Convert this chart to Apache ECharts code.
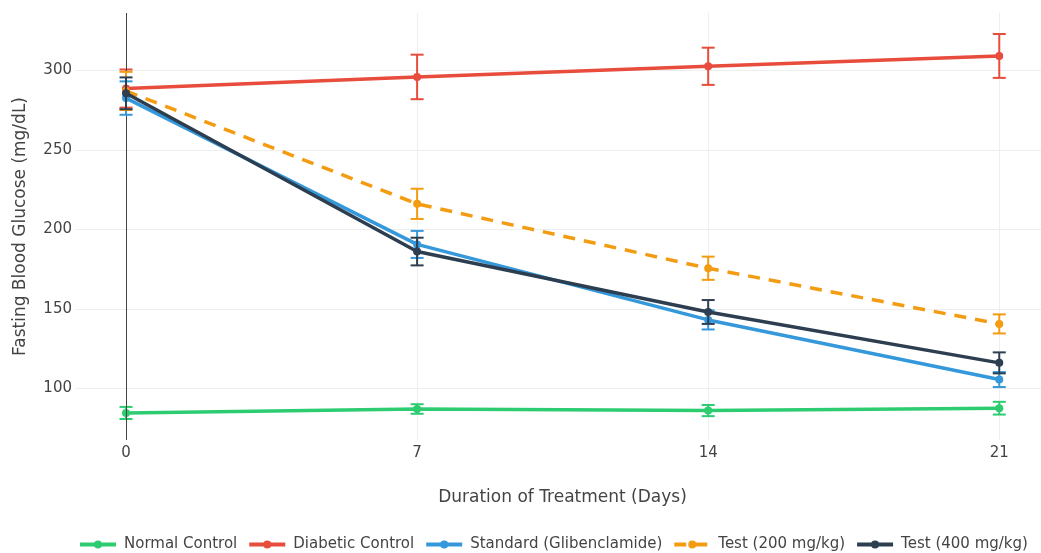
<!DOCTYPE html>
<html><head><meta charset="utf-8">
<script src="https://cdn.jsdelivr.net/npm/echarts@6/dist/echarts.min.js"></script>
<style>html,body{margin:0;padding:0;background:#fff}#c{width:1041px;height:553px}</style>
</head><body><div id="c"></div>
<script>
const days = [0, 7, 14, 21];
const xTicks = [0, 7, 14, 21];
const yTicks = [100, 150, 200, 250, 300];
const seriesNames = ['Normal Control', 'Diabetic Control', 'Standard (Glibenclamide)', 'Test (200 mg/kg)', 'Test (400 mg/kg)'];
const normalMean = [84.5, 87, 86, 87.5];
const normalErr = [3.8, 3, 3.5, 4];
const diabeticMean = [288.5, 295.8, 302.5, 309];
const diabeticErr = [12, 14, 11.7, 13.8];
const standardMean = [282.5, 190.5, 143, 105.5];
const standardErr = [10.5, 8.5, 6, 4.7];
const test200Mean = [287, 216, 175.5, 140.5];
const test200Err = [12, 9.5, 7.3, 6];
const test400Mean = [285.5, 186, 148, 116];
const test400Err = [10, 8.7, 7.5, 6.6];
const colors = ['#2ecc71', '#e74c3c', '#3498db', '#f39c12', '#2c3e50'];

const means = [normalMean, diabeticMean, standardMean, test200Mean, test400Mean];
const errs = [normalErr, diabeticErr, standardErr, test200Err, test400Err];
const FONT = '"DejaVu Sans", Verdana, sans-serif';

const series = [];
means.forEach((m, i) => {
  series.push({
    type: 'custom',
    name: 'err' + i,
    silent: true,
    z: 2 + i * 2,
    data: days.map((d, k) => [d, m[k] - errs[i][k], m[k] + errs[i][k]]),
    renderItem: function (params, api) {
      const lo = api.coord([api.value(0), api.value(1)]);
      const hi = api.coord([api.value(0), api.value(2)]);
      const w = 6.5;
      const st = { stroke: colors[i], lineWidth: 2 };
      return { type: 'group', children: [
        { type: 'line', shape: { x1: lo[0], y1: lo[1], x2: hi[0], y2: hi[1] }, style: st },
        { type: 'line', shape: { x1: lo[0] - w, y1: lo[1], x2: lo[0] + w, y2: lo[1] }, style: st },
        { type: 'line', shape: { x1: hi[0] - w, y1: hi[1], x2: hi[0] + w, y2: hi[1] }, style: st }
      ]};
    }
  });
  const s = {
    type: 'line',
    name: seriesNames[i],
    z: 3 + i * 2,
    data: days.map((d, k) => [d, m[k]]),
    symbol: 'circle',
    symbolSize: 8,
    color: colors[i],
    lineStyle: { width: 3.5, color: colors[i], type: i === 3 ? [12, 9] : 'solid' },
    itemStyle: { color: colors[i] }
  };
  if (i === 0) {
    s.markLine = { silent: true, symbol: 'none', label: { show: false },
      lineStyle: { color: '#444', width: 1, type: 'solid' }, data: [{ xAxis: 0 }] };
  }
  series.push(s);
});

const chart = echarts.init(document.getElementById('c'));
chart.setOption({
  animation: false,
  textStyle: { fontFamily: FONT },
  color: colors,
  grid: { left: 75, top: 13, width: 975, height: 427, containLabel: false, outerBoundsMode: 'none' },
  legend: {
    data: seriesNames, top: 532, left: 73, itemGap: 10, itemWidth: 36, itemHeight: 10,
    lineStyle: { width: 4 },
    textStyle: { fontFamily: FONT, fontSize: 15, color: '#444', padding: [0, 0, 0, 3] }
  },
  xAxis: {
    type: 'value', min: -1.227, max: 22.22,
    name: 'Duration of Treatment (Days)', nameLocation: 'middle', nameGap: 49,
    nameTextStyle: { fontFamily: FONT, fontSize: 17, color: '#444' },
    axisLine: { show: false }, axisTick: { show: false, customValues: xTicks },
    axisLabel: { customValues: xTicks, fontFamily: FONT, fontSize: 15, color: '#444', margin: 6 },
    splitLine: { show: true, lineStyle: { color: '#eee', width: 1 } }
  },
  yAxis: {
    type: 'value', min: 67.5, max: 336,
    name: 'Fasting Blood Glucose (mg/dL)', nameLocation: 'middle', nameGap: 46, nameRotate: 90,
    nameTextStyle: { fontFamily: FONT, fontSize: 17, color: '#444' },
    axisLine: { show: false }, axisTick: { show: false, customValues: yTicks },
    axisLabel: { customValues: yTicks, fontFamily: FONT, fontSize: 15, color: '#444', margin: 3 },
    splitLine: { show: true, lineStyle: { color: '#eee', width: 1 } }
  },
  series: series
});
</script></body></html>
